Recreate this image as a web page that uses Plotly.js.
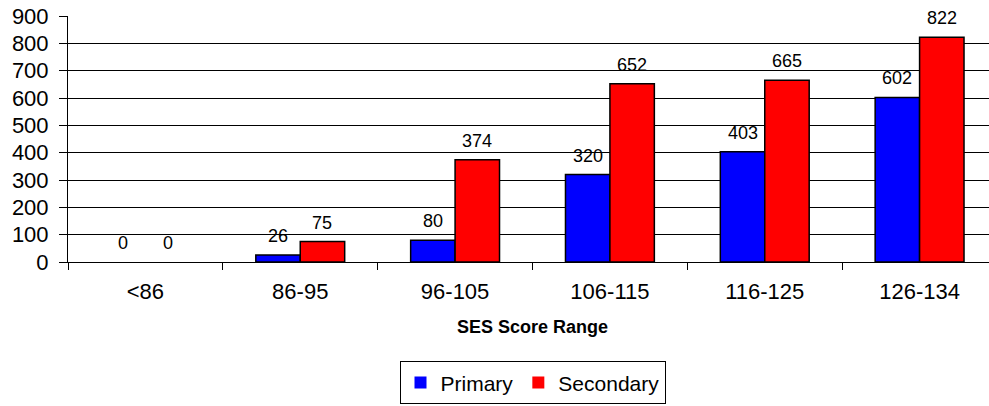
<!DOCTYPE html>
<html>
<head>
<meta charset="utf-8">
<script src="https://cdn.plot.ly/plotly-3.0.1.min.js"></script>
<style>html,body{margin:0;padding:0;background:#fff;overflow:hidden;}#chart{width:998px;height:406px;}</style>
</head>
<body>
<div id="chart"></div>
<script>
var categories = ["<86", "86-95", "96-105", "106-115", "116-125", "126-134"];
var primaryValues = [0, 26, 80, 320, 403, 602];
var secondaryValues = [0, 75, 374, 652, 665, 822];
var yTicks = [0, 100, 200, 300, 400, 500, 600, 700, 800, 900];

var FONT = "Liberation Sans, Arial, sans-serif";
function outline(vals) { return vals.map(function (v) { return v === 0 ? 0 : 1.5; }); }

var traces = [
  {
    type: "bar", name: "Primary", x: categories, y: primaryValues,
    marker: {color: "#0000FF", line: {color: "#000", width: outline(primaryValues)}},
    hoverinfo: "skip"
  },
  {
    type: "bar", name: "Secondary", x: categories, y: secondaryValues,
    marker: {color: "#FF0000", line: {color: "#000", width: outline(secondaryValues)}},
    hoverinfo: "skip"
  }
];

var annotations = [];
function addLabels(vals, shift) {
  vals.forEach(function (v, i) {
    annotations.push({
      x: categories[i], y: v, xref: "x", yref: "y", text: String(v),
      showarrow: false, xshift: shift, yshift: 19, yanchor: "middle", xanchor: "center",
      font: {family: FONT, size: 18, color: "#000"}
    });
  });
}
addLabels(primaryValues, -22.2);
addLabels(secondaryValues, 22.2);
annotations.push({
  text: "<b>SES Score Range</b>", xref: "paper", yref: "paper", x: 0.5, y: -0.263,
  xanchor: "center", yanchor: "middle", showarrow: false,
  font: {family: FONT, size: 18, color: "#000"}
});

var layout = {
  width: 998, height: 406,
  margin: {l: 68, r: 1, t: 16, b: 135},
  paper_bgcolor: "#fff", plot_bgcolor: "#fff",
  font: {family: FONT, size: 22, color: "#000"},
  barmode: "group",
  bargap: 0.426,
  bargroupgap: 0,
  showlegend: true,
  legend: {
    orientation: "h", x: 0.5, xanchor: "center", y: -0.404, yanchor: "top",
    bordercolor: "#000", borderwidth: 1, bgcolor: "#fff",
    font: {family: FONT, size: 21}, itemwidth: 30
  },
  annotations: annotations,
  xaxis: {
    type: "category",
    tickson: "boundaries",
    ticks: "outside", ticklen: 7, tickcolor: "#000", tickwidth: 1,
    showline: true, linecolor: "#000", linewidth: 1,
    showgrid: false, automargin: false,
    tickfont: {size: 22}, ticklabelstandoff: 10
  },
  yaxis: {
    range: [0, 900],
    tickvals: yTicks,
    ticks: "outside", ticklen: 8, tickcolor: "#000", tickwidth: 1,
    showline: true, linecolor: "#000", linewidth: 1,
    showgrid: true, gridcolor: "#000", gridwidth: 1,
    zeroline: false, automargin: false,
    tickfont: {size: 22}, ticklabelstandoff: 6
  }
};
Plotly.newPlot("chart", traces, layout, {displayModeBar: false, staticPlot: true});
</script>
</body>
</html>
